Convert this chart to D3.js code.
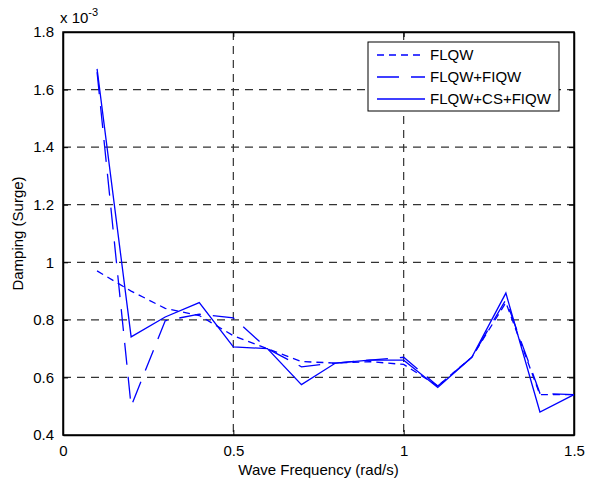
<!DOCTYPE html>
<html>
<head>
<meta charset="utf-8">
<script src="https://cdn.jsdelivr.net/npm/d3@7"></script>
<style>
  body { margin: 0; background: #fff; }
  text { font-family: "Liberation Sans", Arial, sans-serif; }
</style>
</head>
<body>
<script>
// data (values in units of 1e-3)
var freq = [0.1, 0.2, 0.3, 0.4, 0.5, 0.6, 0.7, 0.8, 0.9, 1.0, 1.1, 1.2, 1.3, 1.4, 1.5];
var flqw = [0.97, 0.90, 0.84, 0.815, 0.745, 0.70, 0.655, 0.65, 0.655, 0.645, 0.57, 0.67, 0.86, 0.54, 0.54];
var flqwFiqw = [1.66, 0.50, 0.797, 0.82, 0.807, 0.70, 0.637, 0.65, 0.66, 0.67, 0.57, 0.67, 0.87, 0.545, 0.54];
var flqwCsFiqw = [1.672, 0.741, 0.81, 0.86, 0.706, 0.70, 0.575, 0.65, 0.66, 0.66, 0.565, 0.67, 0.893, 0.48, 0.54];
var seriesNames = ["FLQW", "FLQW+FIQW", "FLQW+CS+FIQW"];
var xTicks = [0, 0.5, 1, 1.5];
var yTicks = [0.4, 0.6, 0.8, 1, 1.2, 1.4, 1.6, 1.8];

var margin = {top: 32, right: 15, bottom: 51, left: 63},
    width = 589 - margin.left - margin.right,
    height = 486 - margin.top - margin.bottom;

var x = d3.scaleLinear().domain([0, 1.5]).range([0, width]);
var y = d3.scaleLinear().domain([0.4, 1.8]).range([height, 0]);

var svg = d3.select("body").append("svg")
    .attr("width", 589)
    .attr("height", 486)
  .append("g")
    .attr("transform", "translate(" + margin.left + "," + margin.top + ")");

// grid
svg.append("g").selectAll("line")
    .data(xTicks.slice(1, -1))
  .enter().append("line")
    .attr("x1", function(d) { return x(d); })
    .attr("x2", function(d) { return x(d); })
    .attr("y1", 0).attr("y2", height)
    .style("stroke", "#333").style("stroke-width", 1.2).style("stroke-dasharray", "8,6");
svg.append("g").selectAll("line")
    .data(yTicks.slice(1, -1))
  .enter().append("line")
    .attr("y1", function(d) { return y(d); })
    .attr("y2", function(d) { return y(d); })
    .attr("x1", 0).attr("x2", width)
    .style("stroke", "#333").style("stroke-width", 1.2).style("stroke-dasharray", "8,6");

// axes, ticks point inward
var fmt = function(d) { return d3.format("~g")(d); };
svg.append("g")
    .attr("transform", "translate(0," + height + ")")
    .call(d3.axisBottom(x).tickValues(xTicks).tickSizeInner(-5).tickSizeOuter(0).tickPadding(10).tickFormat(fmt));
svg.append("g")
    .call(d3.axisLeft(y).tickValues(yTicks).tickSizeInner(-5).tickSizeOuter(0).tickPadding(9).tickFormat(fmt));
svg.append("g")
    .call(d3.axisTop(x).tickValues(xTicks).tickSizeInner(-5).tickSizeOuter(0).tickFormat(""));
svg.append("g")
    .attr("transform", "translate(" + width + ",0)")
    .call(d3.axisRight(y).tickValues(yTicks).tickSizeInner(-5).tickSizeOuter(0).tickFormat(""));
svg.selectAll(".domain").style("stroke", "#000").style("stroke-width", 1.5);
svg.selectAll(".tick text").style("font-size", "15px").style("fill", "#000");

svg.append("rect")
    .attr("width", width).attr("height", height)
    .style("fill", "none").style("stroke", "#000").style("stroke-width", 1.5);

// lines
var styles = [
  {data: flqw, dash: "7,5"},
  {data: flqwFiqw, dash: "22,12"},
  {data: flqwCsFiqw, dash: null}
];
var line = d3.line()
    .x(function(d, i) { return x(freq[i]); })
    .y(function(d) { return y(d); });

styles.forEach(function(s) {
  svg.append("path")
      .datum(s.data)
      .attr("d", line)
      .style("fill", "none")
      .style("stroke", "#0000ff")
      .style("stroke-width", 1.3)
      .style("stroke-dasharray", s.dash);
});

// legend
var lg = svg.append("g").attr("transform", "translate(" + (368 - margin.left) + "," + (42 - margin.top) + ")");
lg.append("rect")
    .attr("width", 191).attr("height", 69)
    .style("fill", "#fff").style("stroke", "#000").style("stroke-width", 1);
styles.forEach(function(s, i) {
  var yy = 13 + i * 22;
  lg.append("line")
      .attr("x1", 9).attr("x2", 57).attr("y1", yy).attr("y2", yy)
      .style("stroke", "#0000ff").style("stroke-width", 1.3)
      .style("stroke-dasharray", s.dash);
  lg.append("text")
      .attr("x", 62).attr("y", yy + 5)
      .style("font-size", "15px")
      .text(seriesNames[i]);
});

// exponent label
var ex = svg.append("text").attr("x", -3).attr("y", -9).style("font-size", "15px");
ex.append("tspan").text("x 10");
ex.append("tspan").attr("dy", -7).style("font-size", "11px").text("-3");

// axis labels
svg.append("text")
    .attr("x", width / 2).attr("y", height + 40)
    .attr("text-anchor", "middle")
    .style("font-size", "15px")
    .text("Wave Frequency (rad/s)");
svg.append("text")
    .attr("transform", "translate(-40," + (height / 2) + ") rotate(-90)")
    .attr("text-anchor", "middle")
    .style("font-size", "15px")
    .text("Damping (Surge)");
</script>
</body>
</html>
